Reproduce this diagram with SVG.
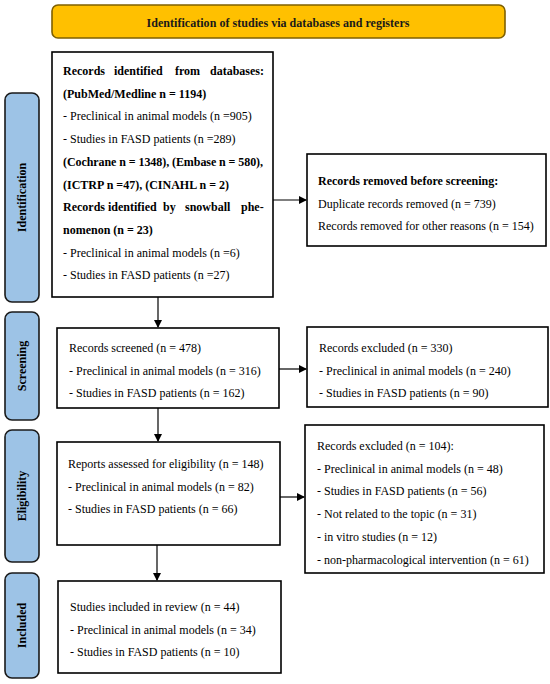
<svg xmlns="http://www.w3.org/2000/svg" width="550" height="684" viewBox="0 0 550 684">
<defs>
<marker id="ah" markerWidth="8" markerHeight="8" refX="7" refY="4" orient="auto" markerUnits="userSpaceOnUse">
<path d="M0,0 L8,4 L0,8 Z" fill="#000"/>
</marker>
<style>
.box{fill:#fff;stroke:#000;stroke-width:1.6}
.side{fill:#9DC3E6;stroke:#1a1a1a;stroke-width:1.6}
.t{font-family:"Liberation Serif","Times New Roman",serif;font-size:12px;fill:#000}
.b{font-weight:bold}
.sl{font-family:"Liberation Serif","Times New Roman",serif;font-size:12px;font-weight:bold;fill:#000;text-anchor:middle}
.c{stroke:#000;stroke-width:1.2;fill:none}
</style>
</defs>
<rect width="550" height="684" fill="#fff"/>

<g id="banner">
<rect x="52" y="5" width="453" height="33" rx="6" fill="#FFC000" stroke="#7F6000" stroke-width="1.6"/>
<text class="t b" x="278" y="26.5" text-anchor="middle" textLength="263" lengthAdjust="spacing" style="fill:#1a1a1a">Identification of studies via databases and registers</text>
</g>

<g id="side-identification">
<rect class="side" x="5" y="93" width="34" height="209" rx="7"/>
<text class="sl" transform="translate(26,197.5) rotate(-90)">Identification</text>
</g>
<g id="side-screening">
<rect class="side" x="5" y="312" width="34" height="108" rx="7"/>
<text class="sl" transform="translate(26,366) rotate(-90)">Screening</text>
</g>
<g id="side-eligibility">
<rect class="side" x="5" y="430" width="34" height="132" rx="7"/>
<text class="sl" transform="translate(26,496) rotate(-90)">Eligibility</text>
</g>
<g id="side-included">
<rect class="side" x="5" y="573" width="34" height="105" rx="7"/>
<text class="sl" transform="translate(26,625.5) rotate(-90)">Included</text>
</g>

<g id="identification">
<rect class="box" x="52" y="52" width="221" height="245"/>
<text class="t b" y="75"><tspan x="63">Records</tspan><tspan x="114">identified</tspan><tspan x="175">from</tspan><tspan x="210">databases:</tspan></text>
<text class="t b" x="63" y="97.7">(PubMed/Medline n = 1194)</text>
<text class="t" x="63" y="120.4">- Preclinical in animal models (n =905)</text>
<text class="t" x="63" y="143.1">- Studies in FASD patients (n =289)</text>
<text class="t b" x="63" y="165.8" textLength="200" lengthAdjust="spacing">(Cochrane n = 1348), (Embase n = 580),</text>
<text class="t b" x="63" y="188.5">(ICTRP n =47), (CINAHL n = 2)</text>
<text class="t b" y="211.2"><tspan x="63">Records</tspan><tspan x="108">identified</tspan><tspan x="163">by</tspan><tspan x="185">snowball</tspan><tspan x="241">phe-</tspan></text>
<text class="t b" x="63" y="233.9">nomenon (n = 23)</text>
<text class="t" x="63" y="256.6">- Preclinical in animal models (n =6)</text>
<text class="t" x="63" y="279.3">- Studies in FASD patients (n =27)</text>
</g>

<g id="removed">
<rect class="box" x="307" y="154" width="239" height="92"/>
<text class="t b" x="318" y="185">Records removed before screening:</text>
<text class="t" x="318" y="207.5">Duplicate records removed (n = 739)</text>
<text class="t" x="318" y="230">Records removed for other reasons (n = 154)</text>
</g>

<g id="screened">
<rect class="box" x="57" y="328" width="222" height="80"/>
<text class="t" x="69" y="352">Records screened (n = 478)</text>
<text class="t" x="69" y="374.7">- Preclinical in animal models (n = 316)</text>
<text class="t" x="69" y="397.4">- Studies in FASD patients (n = 162)</text>
</g>

<g id="excluded1">
<rect class="box" x="307" y="327" width="241" height="80"/>
<text class="t" x="319" y="352">Records excluded (n = 330)</text>
<text class="t" x="319" y="374.7">- Preclinical in animal models (n = 240)</text>
<text class="t" x="319" y="397.4">- Studies in FASD patients (n = 90)</text>
</g>

<g id="eligibility">
<rect class="box" x="57" y="442" width="223" height="103"/>
<text class="t" x="68" y="468">Reports assessed for eligibility (n = 148)</text>
<text class="t" x="68" y="490.5">- Preclinical in animal models (n = 82)</text>
<text class="t" x="68" y="513">- Studies in FASD patients (n = 66)</text>
</g>

<g id="excluded2">
<rect class="box" x="305" y="425" width="239" height="148"/>
<text class="t" x="317" y="450">Records excluded (n = 104):</text>
<text class="t" x="317" y="472.7">- Preclinical in animal models (n = 48)</text>
<text class="t" x="317" y="495.4">- Studies in FASD patients (n = 56)</text>
<text class="t" x="317" y="518.1">- Not related to the topic (n = 31)</text>
<text class="t" x="317" y="540.8">- in vitro studies (n = 12)</text>
<text class="t" x="317" y="563.5">- non-pharmacological intervention (n = 61)</text>
</g>

<g id="included">
<rect class="box" x="58" y="581" width="223" height="92"/>
<text class="t" x="70" y="611">Studies included in review (n = 44)</text>
<text class="t" x="70" y="633.5">- Preclinical in animal models (n = 34)</text>
<text class="t" x="70" y="656">- Studies in FASD patients (n = 10)</text>
</g>

<g id="connectors">
<line class="c" x1="158" y1="297" x2="158" y2="327" marker-end="url(#ah)"/>
<line class="c" x1="158" y1="408" x2="158" y2="441" marker-end="url(#ah)"/>
<line class="c" x1="157" y1="545" x2="157" y2="580" marker-end="url(#ah)"/>
<line class="c" x1="273" y1="200" x2="306" y2="200" marker-end="url(#ah)"/>
<line class="c" x1="279" y1="369" x2="306" y2="369" marker-end="url(#ah)"/>
<line class="c" x1="280" y1="497" x2="304" y2="497" marker-end="url(#ah)"/>
</g>
</svg>
